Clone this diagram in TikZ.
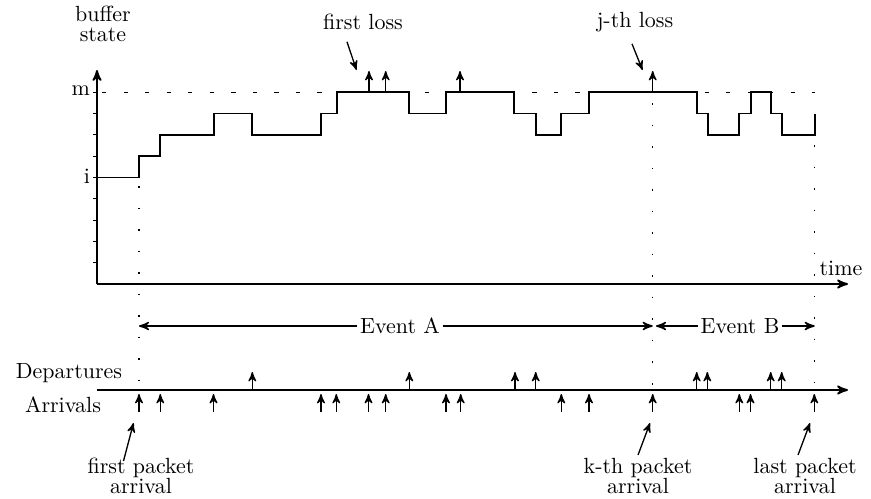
\documentclass[tikz,border=0pt]{standalone}
\usetikzlibrary{arrows,calc}

\tikzset{
  axisline/.style={->, line width=0.8pt},
  stepline/.style={line width=0.8pt},
  eventline/.style={dash pattern=on 0.8pt off 9pt, line width=0.6pt},
  pulse/.style={->, line width=0.6pt},
  lbl/.style={align=center, inner sep=1pt}
}

\begin{document}
\begin{tikzpicture}[x=0.016cm, y=-0.016cm, >=stealth', line width=0.7pt]
  \useasboundingbox (0,0) rectangle (871,498);

  % buffer axes
  \coordinate (O) at (97,284);
  \coordinate (ytop) at (97,70);
  \coordinate (xend) at (848,284);
  \draw[axisline] (O) -- (ytop);
  \draw[axisline] (O) -- (xend);
  \foreach \l in {1,...,9}
    \draw[line width=0.5pt] (93,{284-21.3*\l}) -- (97,{284-21.3*\l});
  \node[lbl] (bufstate) at (103,24) {buffer\\[-3pt]state};
  \node[anchor=east, inner sep=1pt] (mlev) at (93,90.5) {m};
  \node[anchor=east, inner sep=1pt] (ilev) at (93,176) {i};
  \node[lbl] (time) at (841,268) {time};

  % capacity level
  \draw[dash pattern=on 2pt off 7.8pt, line width=0.6pt] (102,92.3) -- (815,92.3);

  % buffer occupancy
  \draw[stepline] (97,{284-21.3*5})
    foreach \x/\l in {139/6, 160/7, 213.7/8, 252.3/7, 321.3/8, 336.7/9, 409.3/8,
      446/9, 514/8, 536/7, 561/8, 589/9, 696.7/8, 707.7/7, 739.3/8, 751/9,
      771.3/8, 782.3/7, 814.7/8} { -| (\x,{284-21.3*\l}) };

  % losses
  \foreach \x in {369,385.7,460,652.7}
    \draw[pulse] (\x,92.3) -- (\x,71);
  \node[lbl] (firstloss) at (363,22) {first loss};
  \node[lbl] (jloss) at (635,22) {j-th loss};
  \coordinate (firstlosstip) at (356.5,70);
  \coordinate (jlosstip) at (642.5,70);
  \draw[pulse] ($(firstloss.south)+(-16,9)$) -- (firstlosstip);
  \draw[pulse] ($(jloss.south)+(-3,9)$) -- (jlosstip);

  % event boundaries
  \coordinate (firsttop) at (139,186);
  \coordinate (firstbot) at (139,396);
  \coordinate (kthtop) at (652.7,103);
  \coordinate (kthbot) at (652.7,396);
  \coordinate (lasttop) at (814.7,145);
  \coordinate (lastbot) at (814.7,396);
  \draw[eventline] (firsttop) -- (firstbot);
  \draw[eventline] (kthtop) -- (kthbot);
  \draw[eventline] (lasttop) -- (lastbot);

  \node[lbl] (eventA) at (400,326) {Event A};
  \node[lbl] (eventB) at (740,326) {Event B};
  \draw[->] (eventA.west) -- (firsttop |- eventA);
  \draw[->] (eventA.east) -- (kthtop |- eventA);
  \draw[->] (eventB.west) -- ([xshift=1.5]kthtop |- eventB);
  \draw[->] (eventB.east) -- (lasttop |- eventB);

  % departures and arrivals
  \coordinate (dstart) at (97,390);
  \coordinate (dend) at (848,390);
  \draw[axisline] (dstart) -- (dend);
  \node[lbl] (departures) at (69,373) {Departures};
  \node[lbl] (arrivals) at (63,405) {Arrivals};
  \foreach \x in {252.3,409.3,515,535.7,696.7,707.3,770.7,781.7}
    \draw[pulse] (\x,390) -- (\x,372);
  \foreach \x in {139,160.3,213.5,321,336.3,368.5,385.7,446,460.7,561.3,589,652.7,739.3,750.5,814.3}
    \draw[pulse] (\x,412) -- (\x,394);

  % packet labels
  \node[lbl] (firstpkt) at (141,476) {first packet\\[-3pt]arrival};
  \node[lbl] (kthpkt) at (638,476) {k-th packet\\[-3pt]arrival};
  \node[lbl] (lastpkt) at (805,476) {last packet\\[-3pt]arrival};
  \coordinate (firstpkttip) at (133.5,423);
  \coordinate (kthpkttip) at (650,423);
  \coordinate (lastpkttip) at (810,423);
  \draw[pulse] ($(firstpkt)+(-17.5,-15)$) -- (firstpkttip);
  \draw[pulse] ($(kthpkt)+(0,-21)$) -- (kthpkttip);
  \draw[pulse] ($(lastpkt)+(-7,-21)$) -- (lastpkttip);
\end{tikzpicture}
\end{document}
